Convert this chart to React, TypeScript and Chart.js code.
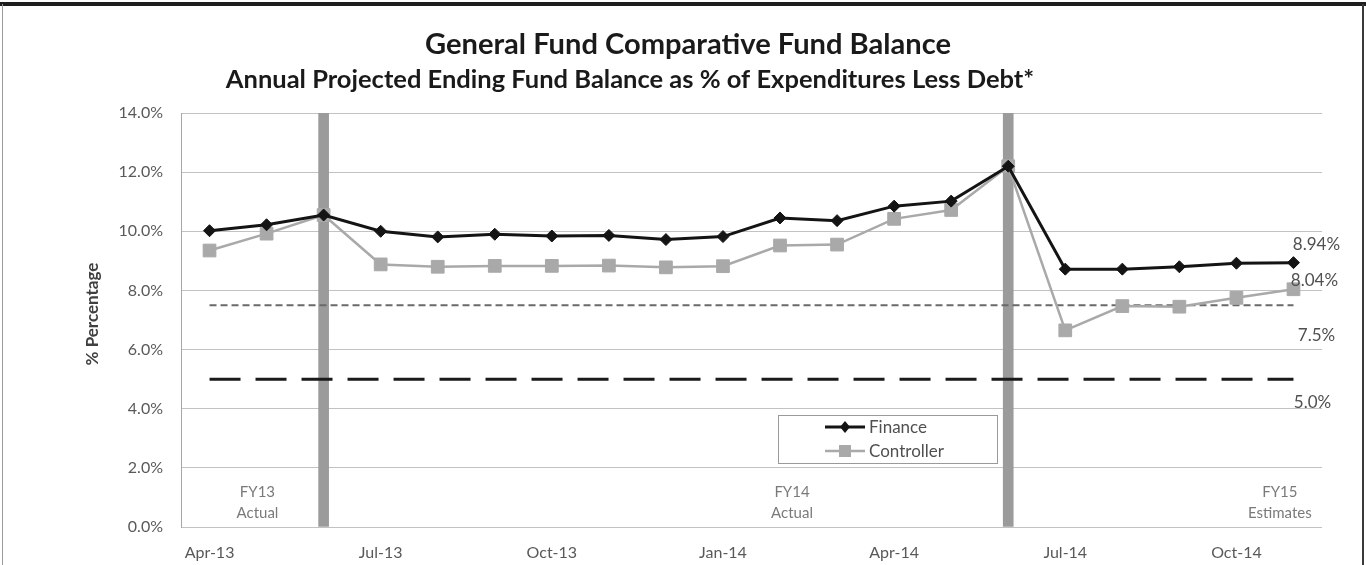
import React, { useEffect, useRef } from 'react';
import { Chart, registerables } from 'chart.js';

Chart.register(...registerables);

// ---- data ----
const months = [
  'Apr-13', 'May-13', 'Jun-13', 'Jul-13', 'Aug-13', 'Sep-13', 'Oct-13', 'Nov-13', 'Dec-13', 'Jan-14',
  'Feb-14', 'Mar-14', 'Apr-14', 'May-14', 'Jun-14', 'Jul-14', 'Aug-14', 'Sep-14', 'Oct-14', 'Nov-14',
];
const financeValues = [
  10.02, 10.22, 10.55, 10.0, 9.81, 9.9, 9.84, 9.86, 9.72, 9.82,
  10.45, 10.36, 10.85, 11.02, 12.2, 8.72, 8.72, 8.8, 8.92, 8.94,
];
const controllerValues = [
  9.35, 9.92, 10.55, 8.88, 8.8, 8.83, 8.83, 8.84, 8.78, 8.82,
  9.52, 9.55, 10.42, 10.72, 12.2, 6.65, 7.47, 7.45, 7.75, 8.04,
];
const dividerMonths = ['Jun-13', 'Jun-14'];
const dividerTop = 14;
const targetReserve = 7.5;
const minimumReserve = 5.0;
const yMin = 0;
const yMax = 14;
const yStep = 2;
const xLabelMonths = ['Apr-13', 'Jul-13', 'Oct-13', 'Jan-14', 'Apr-14', 'Jul-14', 'Oct-14'];
const titleLines = [
  'General Fund Comparative Fund Balance',
  'Annual Projected Ending Fund Balance as % of Expenditures Less Debt*',
];
const yAxisTitle = '% Percentage';
const periodNotes = [
  ['FY13', 'Actual'],
  ['FY14', 'Actual'],
  ['FY15', 'Estimates'],
];
const seriesNames = ['Finance', 'Controller'];

// ---- styles ----
const FONT = 'Lato, "Open Sans", sans-serif';
const FIN_COLOR = '#141414';
const CTRL_COLOR = '#a9a9a9';
const periodNoteAt = [0.84, 10.21, 18.76];
const titleFit = [
  { width: 526, cx: 688, cy: 45 },
  { width: 808, cx: 630, cy: 80 },
];

const decorPlugin = {
  id: 'decor',
  beforeDraw(chart: any) {
    const ctx = chart.ctx;
    ctx.save();
    ctx.fillStyle = '#ffffff';
    ctx.fillRect(0, 0, chart.width, chart.height);
    ctx.restore();
  },
  afterDraw(chart: any) {
    const ctx = chart.ctx;
    const xs = chart.scales.x;
    const ys = chart.scales.y;
    const area = chart.chartArea;
    ctx.save();

    // outer frame
    ctx.fillStyle = '#1e1e1e';
    ctx.fillRect(0, 2, chart.width, 4);
    ctx.fillStyle = '#9a9a9a';
    ctx.fillRect(2, 4, 1, chart.height - 4);
    ctx.fillStyle = '#3a3a3a';
    ctx.fillRect(1362, 4, 2, chart.height - 4);

    // title
    ctx.fillStyle = '#1a1a1a';
    ctx.textAlign = 'center';
    ctx.textBaseline = 'middle';
    titleLines.forEach((line, i) => {
      ctx.font = `bold 100px ${FONT}`;
      const w = ctx.measureText(line).width;
      const size = Math.round(((100 * titleFit[i].width) / w) * 10) / 10;
      ctx.font = `bold ${size}px ${FONT}`;
      ctx.fillText(line, titleFit[i].cx, titleFit[i].cy);
    });

    // y axis title
    ctx.save();
    ctx.translate(93, 314);
    ctx.rotate(-Math.PI / 2);
    ctx.font = `bold 17px ${FONT}`;
    ctx.fillStyle = '#404040';
    ctx.fillText(yAxisTitle, 0, 0);
    ctx.restore();

    // period notes
    ctx.font = `15px ${FONT}`;
    ctx.fillStyle = '#7a7a7a';
    periodNotes.forEach((lines, i) => {
      const x = xs.getPixelForValue(periodNoteAt[i]);
      ctx.fillText(lines[0], x, area.bottom - 35);
      ctx.fillText(lines[1], x, area.bottom - 14);
    });

    // end labels
    const last = months.length - 1;
    const lx = xs.getPixelForValue(last);
    ctx.font = `17px ${FONT}`;
    ctx.fillStyle = '#505050';
    const fLast = financeValues[last];
    const cLast = controllerValues[last];
    ctx.fillText(`${fLast.toFixed(2)}%`, lx + 23, ys.getPixelForValue(fLast) - 18);
    ctx.fillText(`${cLast.toFixed(2)}%`, lx + 21, ys.getPixelForValue(cLast) - 9);
    ctx.fillText(`${targetReserve.toFixed(1)}%`, lx + 23, ys.getPixelForValue(targetReserve) + 30);
    ctx.fillText(`${minimumReserve.toFixed(1)}%`, lx + 19, ys.getPixelForValue(minimumReserve) + 23);

    // legend
    const bx = 778;
    const by = 415;
    ctx.fillStyle = '#ffffff';
    ctx.fillRect(bx, by, 219, 48);
    ctx.strokeStyle = '#9a9a9a';
    ctx.lineWidth = 1;
    ctx.strokeRect(bx + 0.5, by + 0.5, 219, 48);
    const rows = [by + 12, by + 36];
    // Finance
    ctx.strokeStyle = FIN_COLOR;
    ctx.lineWidth = 3;
    ctx.beginPath();
    ctx.moveTo(825, rows[0]);
    ctx.lineTo(865, rows[0]);
    ctx.stroke();
    ctx.fillStyle = FIN_COLOR;
    ctx.beginPath();
    ctx.moveTo(845 - 5, rows[0]);
    ctx.lineTo(845, rows[0] - 6);
    ctx.lineTo(845 + 5, rows[0]);
    ctx.lineTo(845, rows[0] + 6);
    ctx.closePath();
    ctx.fill();
    // Controller
    ctx.strokeStyle = CTRL_COLOR;
    ctx.lineWidth = 2.5;
    ctx.beginPath();
    ctx.moveTo(825, rows[1]);
    ctx.lineTo(865, rows[1]);
    ctx.stroke();
    ctx.fillStyle = CTRL_COLOR;
    ctx.fillRect(845 - 6, rows[1] - 6, 12, 12);
    // legend text
    ctx.textAlign = 'left';
    ctx.font = `17px ${FONT}`;
    ctx.fillStyle = '#505050';
    ctx.fillText(seriesNames[0], 869, rows[0] + 1);
    ctx.fillText(seriesNames[1], 869, rows[1] + 1);

    ctx.restore();
  },
};

export default function App() {
  const canvasRef = useRef<HTMLCanvasElement | null>(null);

  useEffect(() => {
    document.body.style.margin = '0';
    const canvas = canvasRef.current;
    if (!canvas) return;
    const dividerData = months.map((m) => (dividerMonths.includes(m) ? dividerTop : null));
    const chart = new Chart(canvas, {
      type: 'line',
      data: {
        labels: months,
        datasets: [
          {
            label: seriesNames[0],
            data: financeValues,
            borderColor: FIN_COLOR,
            backgroundColor: FIN_COLOR,
            borderWidth: 3,
            pointStyle: 'rectRot',
            pointRadius: 6,
            pointBorderWidth: 1,
            pointBackgroundColor: FIN_COLOR,
            pointBorderColor: FIN_COLOR,
            tension: 0,
            order: 1,
          },
          {
            label: seriesNames[1],
            data: controllerValues,
            borderColor: CTRL_COLOR,
            backgroundColor: CTRL_COLOR,
            borderWidth: 2.5,
            pointStyle: 'rect',
            pointRadius: 9,
            pointBorderWidth: 1,
            pointBackgroundColor: CTRL_COLOR,
            pointBorderColor: CTRL_COLOR,
            tension: 0,
            order: 2,
          },
          {
            label: 'Target',
            data: months.map(() => targetReserve),
            borderColor: '#6a6a6a',
            borderWidth: 2,
            borderDash: [7, 4],
            pointRadius: 0,
            order: 3,
          },
          {
            label: 'Minimum',
            data: months.map(() => minimumReserve),
            borderColor: '#1a1a1a',
            borderWidth: 3,
            borderDash: [31, 15],
            pointRadius: 0,
            order: 4,
          },
          {
            type: 'bar',
            label: 'Fiscal year',
            data: dividerData as any,
            backgroundColor: '#9b9b9b',
            barThickness: 10,
            order: 10,
          } as any,
        ],
      },
      options: {
        responsive: false,
        animation: false,
        devicePixelRatio: 1,
        layout: { padding: { top: 113, right: 44, bottom: 0, left: 0 } },
        plugins: {
          legend: { display: false },
          title: { display: false },
          tooltip: { enabled: false },
        },
        font: { family: FONT },
        scales: {
          x: {
            type: 'category',
            offset: true,
            grid: { display: false, offset: true },
            border: { display: false },
            ticks: {
              autoSkip: false,
              maxRotation: 0,
              padding: 8,
              color: '#595959',
              font: { family: FONT, size: 16 },
              callback: (_v: any, i: number) => (xLabelMonths.includes(months[i]) ? months[i] : ''),
            },
            afterFit: (scale: any) => {
              scale.height = 38;
            },
          },
          y: {
            min: yMin,
            max: yMax,
            grid: { color: '#c2c2c2', lineWidth: 1, drawTicks: false },
            border: { display: true, color: '#a6a6a6', width: 1 },
            ticks: {
              stepSize: yStep,
              padding: 18,
              color: '#595959',
              font: { family: FONT, size: 16 },
              callback: (v: any) => `${Number(v).toFixed(1)}%`,
            },
            afterFit: (scale: any) => {
              scale.width = 181;
            },
          },
        },
      } as any,
      plugins: [decorPlugin],
    });
    return () => chart.destroy();
  }, []);

  return (
    <div style={{ width: 1366, height: 565 }}>
      <canvas ref={canvasRef} width={1366} height={565} style={{ display: 'block' }} />
    </div>
  );
}
